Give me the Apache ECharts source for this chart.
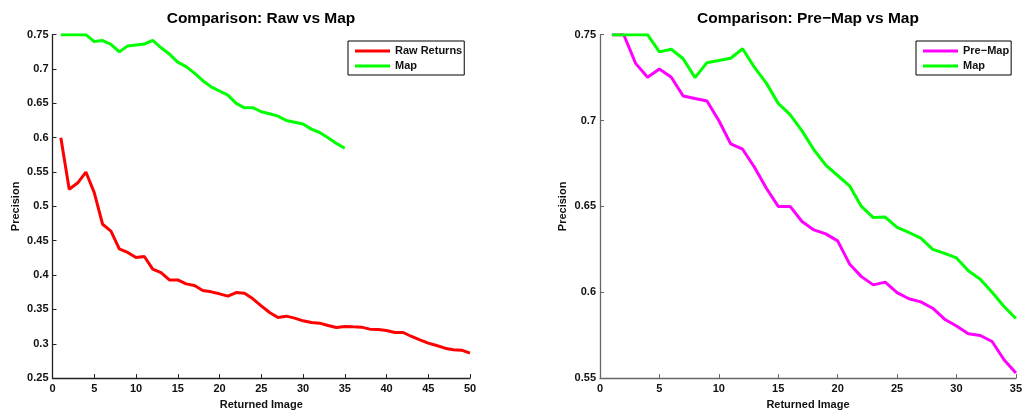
<!DOCTYPE html>
<html>
<head>
<meta charset="utf-8">
<style>
  html, body { margin: 0; padding: 0; background: #fff; }
  #chart { width: 1025px; height: 415px; }
</style>
<script src="https://cdn.jsdelivr.net/npm/echarts@6/dist/echarts.min.js"></script>
</head>
<body>
<div id="chart"></div>
<script>
// Precision per number of returned images
const rawReturns = [0.600, 0.525, 0.534, 0.550, 0.520, 0.474, 0.464, 0.438, 0.433, 0.4255,
  0.427, 0.4086, 0.4037, 0.393, 0.393, 0.3872, 0.3848, 0.3775, 0.3756, 0.3727,
  0.3693, 0.3746, 0.3737, 0.3654, 0.3552, 0.3455, 0.3382, 0.3402, 0.3373, 0.3334,
  0.3309, 0.330, 0.3266, 0.3236, 0.3251, 0.3246, 0.3242, 0.3213, 0.3208, 0.3193,
  0.3164, 0.3164, 0.3106, 0.3057, 0.3009, 0.2974, 0.2936, 0.2912, 0.2907, 0.2864];

const mapPrecision = [0.750, 0.750, 0.750, 0.750, 0.740, 0.7415, 0.736, 0.725, 0.7337, 0.735,
  0.7363, 0.7418, 0.731, 0.7218, 0.710, 0.7035, 0.694, 0.683, 0.674, 0.668,
  0.662, 0.650, 0.6435, 0.6438, 0.6378, 0.6348, 0.6315, 0.625, 0.6226, 0.620,
  0.6125, 0.6076, 0.600, 0.5917, 0.5847];

const preMapPrecision = [0.750, 0.750, 0.7333, 0.7252, 0.730, 0.7252, 0.7143, 0.7128, 0.7114, 0.700,
  0.6864, 0.6833, 0.6728, 0.6606, 0.650, 0.650, 0.6412, 0.6363, 0.634, 0.6299,
  0.6165, 0.6091, 0.6043, 0.6059, 0.5998, 0.5962, 0.5944, 0.5907, 0.5843, 0.5803,
  0.5758, 0.5748, 0.5713, 0.5607, 0.553];

const titles = ['Comparison: Raw vs Map', 'Comparison: Pre\u2212Map vs Map'];
const leftNames = ['Raw Returns', 'Map'];
const rightNames = ['Pre\u2212Map', 'Map'];
const xName = 'Returned Image';
const yName = 'Precision';

// x = returned image index (1-based)
const pairs = arr => arr.map((v, i) => [i + 1, v]);

const FONT = '"Liberation Sans", Arial, Helvetica, sans-serif';
const RED = '#ff0000', GREEN = '#00ff00', MAGENTA = '#ff00ff';

function xAxisCfg(gridIndex, max, lineColor) {
  return {
    type: 'value', gridIndex, min: 0, max, interval: 5,
    name: xName, nameLocation: 'middle', nameGap: 20,
    nameTextStyle: { fontFamily: FONT, fontWeight: 'bold', fontSize: 11, color: '#111' },
    axisLine: { show: true, onZero: false, lineStyle: { color: lineColor, width: 1.3 } },
    axisTick: { show: true, inside: true, length: 4, lineStyle: { color: lineColor, width: 1 } },
    axisLabel: { fontFamily: FONT, fontWeight: 'bold', fontSize: 11, color: '#111', margin: 5 },
    splitLine: { show: false }
  };
}

function yAxisCfg(gridIndex, min, max, lineColor, nameGap) {
  return {
    type: 'value', gridIndex, min, max, interval: 0.05,
    name: yName, nameLocation: 'middle', nameGap,
    nameTextStyle: { fontFamily: FONT, fontWeight: 'bold', fontSize: 11, color: '#111' },
    axisLine: { show: true, onZero: false, lineStyle: { color: lineColor, width: 1.3 } },
    axisTick: { show: true, inside: true, length: 4, lineStyle: { color: lineColor, width: 1 } },
    axisLabel: { fontFamily: FONT, fontWeight: 'bold', fontSize: 11, color: '#111', margin: 4,
      formatter: v => String(+v.toFixed(2)) },
    splitLine: { show: false }
  };
}

function legendCfg(names, left) {
  return {
    data: names, orient: 'vertical', left, top: 41,
    padding: [4, 2, 3, 7], itemGap: 3,
    itemWidth: 35, itemHeight: 3, icon: 'rect',
    borderColor: '#000', borderWidth: 1, backgroundColor: '#fff',
    borderRadius: 0,
    textStyle: { fontFamily: FONT, fontWeight: 'bold', fontSize: 11, color: '#111', lineHeight: 12 },
    selectedMode: false
  };
}

function lineSeries(name, data, color, xi, yi) {
  return {
    name, type: 'line', data: pairs(data), xAxisIndex: xi, yAxisIndex: yi,
    showSymbol: false, symbol: 'none',
    lineStyle: { color, width: 3 }, itemStyle: { color },
    animation: false
  };
}

const titleStyle = { fontFamily: FONT, fontWeight: 'bold', fontSize: 15.5, color: '#000' };

const chart = echarts.init(document.getElementById('chart'), null, { renderer: 'canvas' });
chart.setOption({
  backgroundColor: '#fff',
  animation: false,
  title: [
    { text: titles[0], left: 261, top: 11, padding: 0, textAlign: 'center', textStyle: titleStyle },
    { text: titles[1], left: 808, top: 11, padding: 0, textAlign: 'center', textStyle: titleStyle }
  ],
  legend: [legendCfg(leftNames, 348), legendCfg(rightNames, 916)],
  grid: [
    { left: 52.5, top: 34.7, width: 417.5, height: 343.6, containLabel: false },
    { left: 600, top: 34.7, width: 416.7, height: 343.6, containLabel: false }
  ],
  xAxis: [xAxisCfg(0, 50, '#222'), xAxisCfg(1, 35, '#666')],
  yAxis: [yAxisCfg(0, 0.25, 0.75, '#222', 31), yAxisCfg(1, 0.55, 0.75, '#666', 32)],
  series: [
    lineSeries(leftNames[0], rawReturns, RED, 0, 0),
    lineSeries(leftNames[1], mapPrecision, GREEN, 0, 0),
    lineSeries(rightNames[0], preMapPrecision, MAGENTA, 1, 1),
    lineSeries(rightNames[1], mapPrecision, GREEN, 1, 1)
  ]
});
</script>
</body>
</html>
